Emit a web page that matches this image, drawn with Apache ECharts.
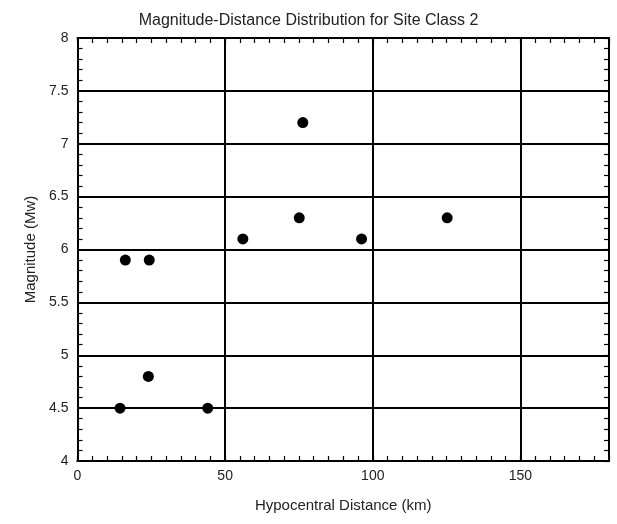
<!DOCTYPE html>
<html><head><meta charset="utf-8">
<script src="https://cdn.jsdelivr.net/npm/echarts@6/dist/echarts.min.js"></script>
<style>html,body{margin:0;padding:0;background:#fff}#c{width:617px;height:524px}</style>
</head><body><div id="c"></div>
<script>
var distance = [14.4, 44.1, 24.0, 16.2, 24.3, 56.0, 76.3, 75.1, 96.2, 125.2];
var magnitude = [4.5, 4.5, 4.8, 5.9, 5.9, 6.1, 7.2, 6.3, 6.1, 6.3];
var title = 'Magnitude-Distance Distribution for Site Class 2';
var xName = 'Hypocentral Distance (km)';
var yName = 'Magnitude (Mw)';

var pts = distance.map(function(d, i){ return [d, magnitude[i]]; });
var font = 'Liberation Sans, Arial, sans-serif';
var chart = echarts.init(document.getElementById('c'));
function tickAxis(pos, mn, mx, iv){
  return {type:'value', position:pos, min:mn, max:mx, interval:iv,
    axisLine:{show:true, onZero:false, lineStyle:{color:'#000', width:2}}, splitLine:{show:false}, axisLabel:{show:false},
    axisTick:{show:true, inside:true, length:5, lineStyle:{color:'#000', width:1.2}}};
}
chart.setOption({
  animation:false,
  backgroundColor:'#fff',
  title:{text:title, left:'center', top:8, textStyle:{fontFamily:font, fontSize:16, fontWeight:'normal', color:'#222'}},
  grid:{left:77.5, right:8, top:38, bottom:63},
  xAxis:[
    {type:'value', position:'bottom', min:0, max:180, interval:50,
     name:xName, nameLocation:'middle', nameGap:37,
     nameTextStyle:{fontFamily:font, fontSize:15, color:'#222'},
     axisLine:{show:true, onZero:false, lineStyle:{color:'#000', width:2}},
     axisTick:{show:false},
     axisLabel:{fontFamily:font, fontSize:14, color:'#222', margin:8, showMaxLabel:false},
     splitLine:{show:true, lineStyle:{color:'#000', width:2}}},
    tickAxis('bottom', 0, 180, 5),
    tickAxis('top', 0, 180, 5)
  ],
  yAxis:[
    {type:'value', position:'left', min:4, max:8, interval:0.5,
     name:yName, nameLocation:'middle', nameGap:37,
     nameTextStyle:{fontFamily:font, fontSize:15, color:'#222'},
     axisLine:{show:true, onZero:false, lineStyle:{color:'#000', width:2}},
     axisTick:{show:true, inside:true, length:0, lineStyle:{color:'#000', width:1.2}},
     minorTick:{show:true, splitNumber:5, length:5, lineStyle:{color:'#000', width:1.2}},
     axisLabel:{fontFamily:font, fontSize:14, color:'#222', margin:9},
     splitLine:{show:true, lineStyle:{color:'#000', width:2}}},
    tickAxis('right', 4, 8, 0.1)
  ],
  series:[{type:'scatter', xAxisIndex:0, yAxisIndex:0, data:pts, symbol:'circle', symbolSize:11,
    itemStyle:{color:'#000', opacity:1}}]
});
</script></body></html>
